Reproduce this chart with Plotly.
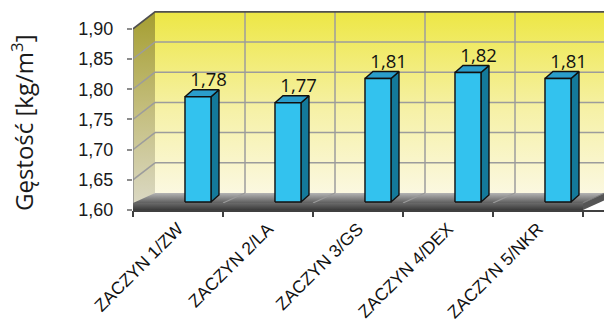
import plotly.graph_objects as go

# ---------------- data ----------------
categories = ["ZACZYN 1/ZW", "ZACZYN 2/LA", "ZACZYN 3/GS", "ZACZYN 4/DEX", "ZACZYN 5/NKR"]
values = [1.78, 1.77, 1.81, 1.82, 1.81]
value_labels = ["1,78", "1,77", "1,81", "1,82", "1,81"]
y_ticks = [1.60, 1.65, 1.70, 1.75, 1.80, 1.85, 1.90]
y_ticktext = ["1,60", "1,65", "1,70", "1,75", "1,80", "1,85", "1,90"]
y_title = "Gęstość [kg/m<sup>3</sup>]"

# ---------------- geometry (pixel scales) ----------------
W, H = 604, 322
ML, MB = 133, 112
PXC = 90.0            # px per category
PXV = 604.0           # px per value unit
plot_w = W - ML
plot_h = H - MB
y0, y1 = y_ticks[0], y_ticks[-1]
n = len(categories)
xl, xr = -0.5, n - 0.5
DX, DY = 22 / PXC, 17 / PXV          # depth of the 3D box
T = 7 / PXV                          # floor slab thickness
BO, BW = 0.222, 0.289                # bar offset / width (category units)
DXB, DYB = 8 / PXC, 7 / PXV          # bar depth
YB = y0 + 8 / PXV                    # visible bar bottom
BY = 4.6 / PXV                       # bar plane shift

fig = go.Figure()

def poly(xs, ys, **kw):
    fig.add_trace(go.Scatter(x=xs, y=ys, mode="lines", fill="toself",
                             hoverinfo="skip", showlegend=False, **kw))

def lines(xs, ys, color, width):
    fig.add_trace(go.Scatter(x=xs, y=ys, mode="lines", hoverinfo="skip",
                             showlegend=False, line=dict(color=color, width=width)))

# back wall
poly([xl + DX, xr + DX + 0.3, xr + DX + 0.3, xl + DX, xl + DX],
     [y0 + DY, y0 + DY, y1 + DY, y1 + DY, y0 + DY],
     line=dict(width=0),
     fillgradient=dict(type="vertical",
                       colorscale=[[0, "#FBF8E0"], [0.45, "#F6F1A8"], [1, "#EDE745"]]))
# back wall grid
gx, gy = [], []
for v in y_ticks[1:-1]:
    gx += [xl + DX, xr + DX + 0.3, None]
    gy += [v + DY, v + DY, None]
for b in range(n - 1):
    gx += [b + 0.5 + DX, b + 0.5 + DX, None]
    gy += [y0 + DY, y1 + DY, None]
lines(gx, gy, "#9C9C9C", 1.5)

# side wall
poly([xl, xl, xl + DX, xl + DX, xl], [y0, y1, y1 + DY, y0 + DY, y0],
     line=dict(width=0),
     fillgradient=dict(type="vertical",
                       colorscale=[[0, "#DCDAC8"], [0.5, "#C4BE7E"], [1, "#A59E30"]]))
sx, sy = [], []
for v in y_ticks[1:-1]:
    sx += [xl, xl + DX, None]
    sy += [v, v + DY, None]
lines(sx, sy, "#9C9C9C", 1.5)
# side wall front edge
lines([xl, xl], [y0, y1], "#8C8C8C", 1.5)
# top border
lines([xl, xl + DX, xr + DX + 0.3], [y1, y1 + DY, y1 + DY], "#505050", 1.8)

# floor top
poly([xl, xr, xr + DX, xl + DX, xl], [y0 + T, y0 + T, y0 + DY, y0 + DY, y0 + T],
     line=dict(width=0),
     fillgradient=dict(type="vertical",
                       colorscale=[[0, "#5E5E5E"], [1, "#B4B4B4"]]))
fx, fy = [], []
for b in range(n):
    fx += [b + 0.5, b + 0.5 + DX, None]
    fy += [y0 + T, y0 + DY, None]
lines(fx, fy, "#9A9A9A", 1.2)
# floor front face
poly([xl, xr, xr, xl, xl], [y0, y0, y0 + T, y0 + T, y0],
     line=dict(width=0),
     fillgradient=dict(type="vertical", colorscale=[[0, "#3A3A3A"], [1, "#6A6A6A"]]))
# floor right face
poly([xr, xr + DX, xr + DX, xr, xr], [y0, y0 + DY - T, y0 + DY, y0 + T, y0],
     line=dict(width=0), fillcolor="#555555")
lines([xr, xr + DX], [y0 + T, y0 + DY], "#7A7A7A", 1)

# bars
frx, fry, sdx, sdy, tpx, tpy = [], [], [], [], [], []
for i, v in enumerate(values):
    a = i + BO - BW / 2
    b = i + BO + BW / 2
    top = v + BY
    frx += [a, b, b, a, a, None]
    fry += [YB, YB, top, top, YB, None]
    sdx += [b, b + DXB, b + DXB, b, b, None]
    sdy += [YB, YB + DYB, top + DYB, top, YB, None]
    tpx += [a, b, b + DXB, a + DXB, a, None]
    tpy += [top, top, top + DYB, top + DYB, top, None]
edge = dict(color="#101010", width=1.4)
poly(sdx, sdy, line=edge, fillcolor="#14799A")
poly(tpx, tpy, line=edge, fillcolor="#2A9DCB")
poly(frx, fry, line=edge, fillcolor="#33C2EE")

# value labels
fig.add_trace(go.Scatter(
    x=[i + 0.34 for i in range(n)],
    y=[v + BY + DYB - 1 / PXV for v in values],
    mode="text", text=value_labels, textposition="top center",
    textfont=dict(family="Open Sans", size=18.5, color="#111111"),
    hoverinfo="skip", showlegend=False, cliponaxis=False))

# dummy trace for tick axis
fig.add_trace(go.Scatter(x=[0], y=[1.7], xaxis="x2", mode="markers",
                         marker=dict(opacity=0), hoverinfo="skip", showlegend=False))

xrange = [xl, xl + plot_w / PXC]
fig.update_layout(
    width=W, height=H,
    margin=dict(l=ML, r=0, t=0, b=MB, pad=0, autoexpand=False),
    paper_bgcolor="white", plot_bgcolor="white",
    showlegend=False,
    xaxis=dict(range=xrange, tickvals=list(range(n)), ticktext=categories,
               tickangle=-45, ticks="", showgrid=False, zeroline=False,
               showline=True, linecolor="#404040", linewidth=1.5,
               automargin=False,
               tickfont=dict(family="Liberation Sans", size=17.5, color="#111111"),
               fixedrange=True),
    xaxis2=dict(range=xrange, overlaying="x", anchor="y", side="bottom",
                tickvals=[b - 0.5 for b in range(n + 1)], ticks="outside",
                ticklen=6, tickwidth=1.5, tickcolor="#404040", automargin=False,
                showticklabels=False, showgrid=False, zeroline=False, showline=False),
    yaxis=dict(range=[y0, y0 + plot_h / PXV], tickvals=y_ticks, ticktext=y_ticktext,
               ticks="outside", ticklen=5, tickwidth=1.5, tickcolor="#8C8C8C",
               showgrid=False, zeroline=False, showline=False, automargin=False,
               ticklabelstandoff=10,
               tickfont=dict(family="Liberation Sans", size=18, color="#1A1A1A")),
    annotations=[dict(text=y_title, xref="paper", yref="paper",
                      x=(23 - ML) / plot_w, y=(plot_h - 123) / plot_h,
                      xanchor="center", yanchor="middle", textangle=-90,
                      showarrow=False,
                      font=dict(family="Open Sans", size=24, color="#1A1A1A"))],
)

fig.write_html("out.html")
